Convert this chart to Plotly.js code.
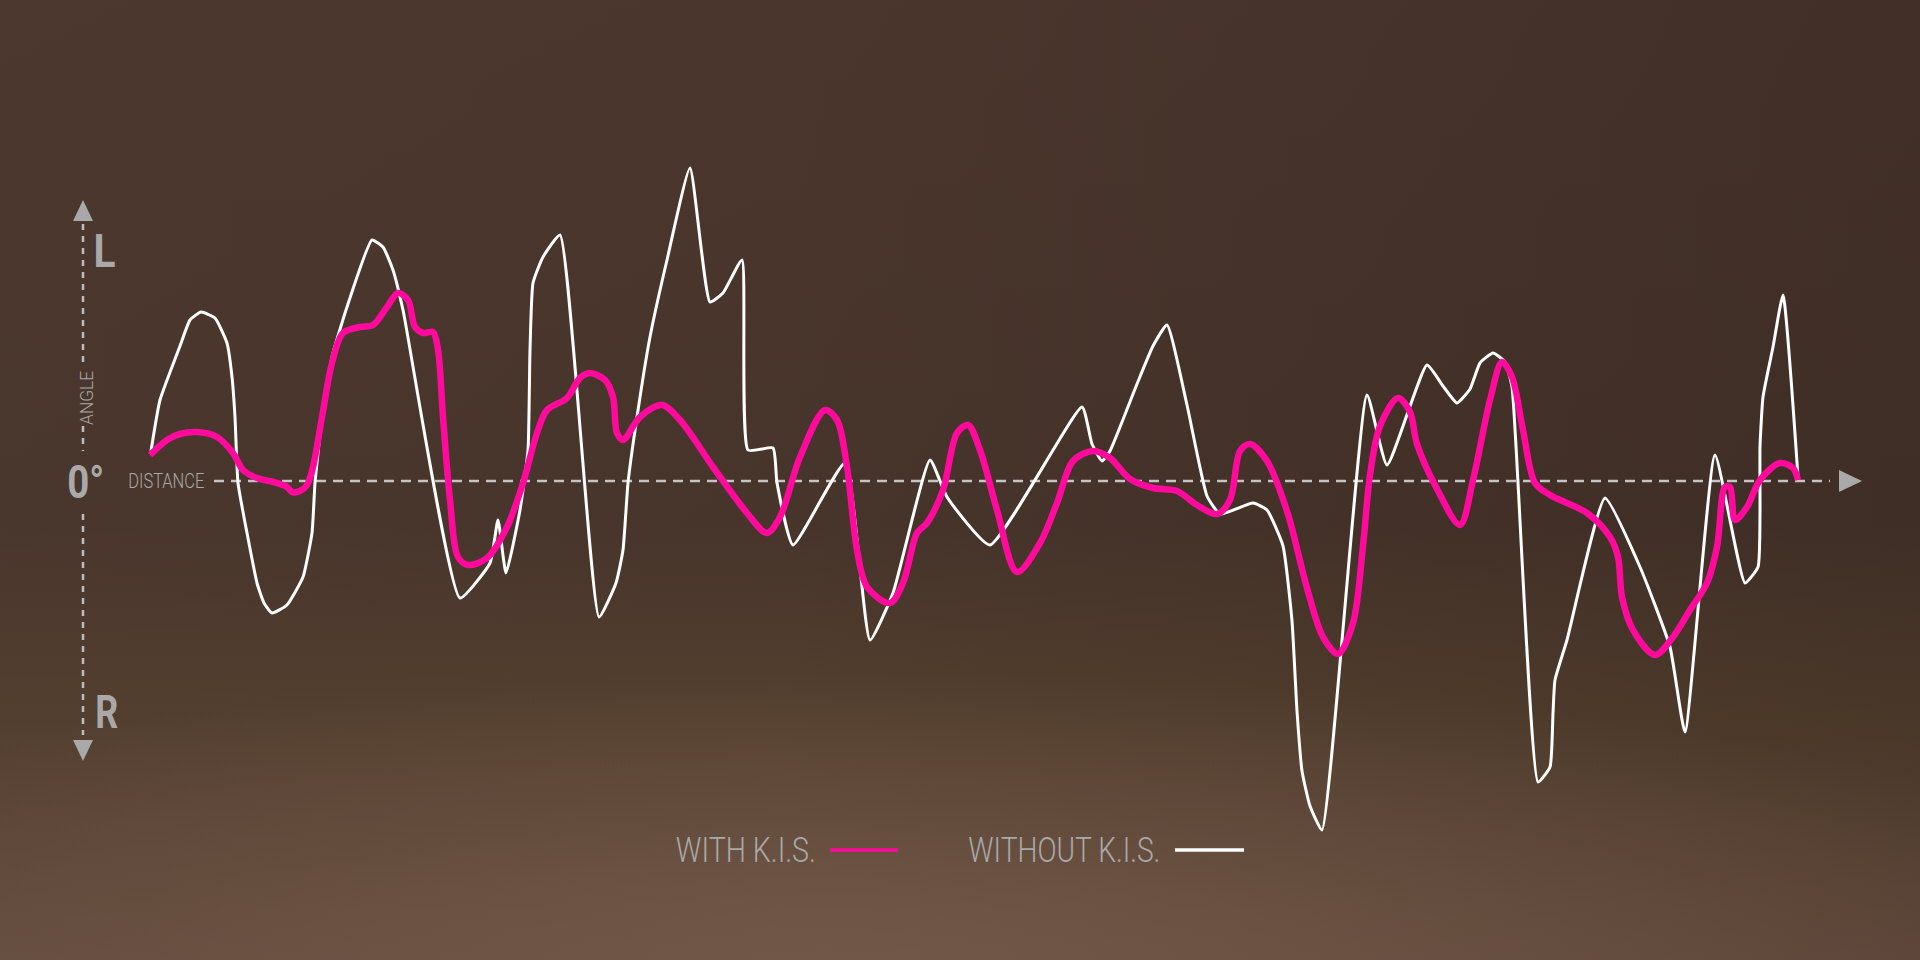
<!DOCTYPE html>
<html>
<head>
<meta charset="utf-8">
<script src="https://cdn.plot.ly/plotly-3.0.1.min.js"></script>
<style>
html,body{margin:0;padding:0;width:1920px;height:960px;overflow:hidden;}
body{
  background:
    radial-gradient(ellipse 70% 30% at 45% 100%, rgba(115,88,72,0.85) 0%, rgba(110,84,68,0.4) 55%, rgba(0,0,0,0) 100%),
    linear-gradient(to right, rgba(80,60,50,0.25) 0%, rgba(0,0,0,0) 40%, rgba(40,28,22,0.25) 100%),
    linear-gradient(to bottom, #4a362d 0%, #47342b 55%, #54402f 75%, #6a5143 100%);
}
#chart{width:1920px;height:960px;}
</style>
</head>
<body>
<div id="chart"></div>
<script>
// Distance (horizontal) and angle (vertical, + = left, - = right) readings
const withoutDistance = [151,160,180,190,201,215,227,232,235,238,247,257,264,272,287,303,312,315,322,332,347,372,383,393,403,460,490,498,506,520,528,530,533,543,560,599,616,623,628,637,650,667,690,710,723,742,748,773,777,793,845,870,893,930,947,990,1082,1092,1102,1110,1137,1153,1167,1187,1207,1220,1253,1267,1283,1292,1297,1302,1310,1322,1367,1387,1427,1443,1457,1470,1480,1493,1505,1512,1538,1550,1553,1555,1567,1605,1640,1670,1685,1715,1745,1758,1760,1760,1763,1773,1783,1798];
const withoutAngle    = [30,81,135,161,169,163,138,104,64,-2,-52,-102,-122,-132,-124,-96,-52,-2,64,124,174,241,234,211,171,-117,-82,-39,-92,-29,31,131,198,224,246,-136,-102,-69,-2,64,144,221,313,179,188,221,31,33,-2,-64,18,-159,-112,21,-16,-64,74,37,20,30,97,135,156,76,-15,-33,-22,-29,-65,-140,-230,-290,-325,-349,86,16,116,95,78,92,118,128,119,94,-301,-286,-232,-199,-159,-17,-86,-166,-251,26,-102,-86,-32,34,84,134,186,4];

const withDistance = [150,167,180,197,217,233,243,257,277,287,292,300,307,313,322,332,343,360,373,387,398,408,415,423,433,438,443,450,458,468,487,507,523,537,547,567,580,590,605,613,617,623,640,662,680,713,747,767,780,800,825,837,847,857,867,890,903,917,927,943,957,968,980,997,1017,1040,1057,1073,1093,1110,1130,1153,1177,1197,1217,1230,1240,1250,1267,1287,1307,1323,1338,1353,1363,1370,1380,1398,1410,1417,1437,1460,1473,1490,1502,1512,1523,1535,1550,1587,1610,1618,1622,1633,1655,1673,1690,1707,1717,1725,1730,1735,1747,1760,1780,1793,1798];
const withAngle    = [26,41,47,49,44,28,11,3,-2,-6,-11,-10,-4,14,64,118,148,154,156,174,188,181,154,148,149,131,64,-19,-76,-84,-77,-46,-2,48,71,83,103,108,101,84,48,41,64,76,61,14,-32,-52,-36,24,71,61,14,-69,-106,-122,-102,-52,-42,-9,48,56,31,-29,-91,-62,-22,20,30,23,2,-7,-10,-24,-33,-19,30,37,20,-30,-107,-156,-173,-142,-65,6,55,83,69,37,-8,-44,1,81,119,104,51,-2,-14,-32,-56,-76,-116,-149,-174,-156,-129,-102,-66,-6,-6,-39,-26,1,18,13,1];

const seriesNames = ["WITH K.I.S.", "WITHOUT K.I.S."];
const axisLabels = {left: "L", right: "R", zero: "0°", angle: "ANGLE", distance: "DISTANCE"};

const PINK = "#ff0a9c";
const WHITE = "#ffffff";
const GREY = "#a9a9a9";
const FONT = "Roboto, 'DejaVu Sans Condensed', sans-serif";

const traces = [
  {x: withoutDistance, y: withoutAngle, type: "scatter", mode: "lines",
   line: {color: WHITE, width: 3, shape: "spline", smoothing: 0.45}, name: seriesNames[1], hoverinfo: "skip"},
  {x: withDistance, y: withAngle, type: "scatter", mode: "lines",
   line: {color: PINK, width: 6.5, shape: "spline", smoothing: 0.9}, name: seriesNames[0], hoverinfo: "skip"}
];

const dash = {color: "#bdbdbd", width: 2.5, dash: "6px,6px"};
const shapes = [
  {type: "line", xref: "x", yref: "y", x0: 214, x1: 1830, y0: 0, y1: 0, line: {color: "#c4c4c4", width: 2.5, dash: "10px,7px"}, layer: "below"},
  {type: "path", xref: "x", yref: "y", path: "M 1839 11 L 1862 0 L 1839 -11 Z", fillcolor: GREY, line: {width: 0}},
  {type: "line", xref: "x", yref: "y", x0: 83, x1: 83, y0: 257, y1: 118, line: dash},
  {type: "line", xref: "x", yref: "y", x0: 83, x1: 83, y0: 55, y1: 30, line: dash},
  {type: "line", xref: "x", yref: "y", x0: 83, x1: 83, y0: -33, y1: -254, line: dash},
  {type: "path", xref: "x", yref: "y", path: "M 73 260 L 93 260 L 83 281 Z", fillcolor: GREY, line: {width: 0}},
  {type: "path", xref: "x", yref: "y", path: "M 73 -259 L 93 -259 L 83 -280 Z", fillcolor: GREY, line: {width: 0}},
  {type: "line", xref: "x", yref: "y", x0: 830, x1: 898, y0: -369, y1: -369, line: {color: PINK, width: 3.5}},
  {type: "line", xref: "x", yref: "y", x0: 1175, x1: 1244, y0: -369, y1: -369, line: {color: WHITE, width: 3.5}}
];

const ann = (text, x, y, size, weight, opts) => Object.assign({
  text: text, x: x, y: y, xref: "x", yref: "y", showarrow: false,
  font: {family: FONT, size: size, color: GREY, weight: weight}, xanchor: "center", yanchor: "middle"
}, opts || {});

const annotations = [
  ann(axisLabels.left, 104, 230, 46, 700),
  ann(axisLabels.right, 106, -231, 46, 700),
  ann(axisLabels.zero, 85, 0, 47, 700),
  ann(axisLabels.angle, 86, 83, 18, 300, {textangle: -90}),
  ann(axisLabels.distance, 166, 0, 20, 300),
  ann(seriesNames[0], 746, -369, 35, 300),
  ann(seriesNames[1], 1064, -369, 35, 300)
];
// condensed look: compress each label to the reference's text width
const labelWidths = [22, 23, 37, 54, 76, 140, 192];

const layout = {
  width: 1920, height: 960,
  margin: {l: 0, r: 0, t: 0, b: 0, pad: 0},
  paper_bgcolor: "rgba(0,0,0,0)", plot_bgcolor: "rgba(0,0,0,0)",
  showlegend: false,
  xaxis: {range: [0, 1920], visible: false, fixedrange: true},
  yaxis: {range: [-479, 481], visible: false, fixedrange: true},
  shapes: shapes, annotations: annotations
};

Plotly.newPlot("chart", traces, layout, {displayModeBar: false, staticPlot: true}).then(gd => {
  gd.querySelectorAll(".annotation-text").forEach((el, i) => {
    if (labelWidths[i]) {
      el.setAttribute("textLength", labelWidths[i]);
      el.setAttribute("lengthAdjust", "spacingAndGlyphs");
    }
  });
});
</script>
</body>
</html>
